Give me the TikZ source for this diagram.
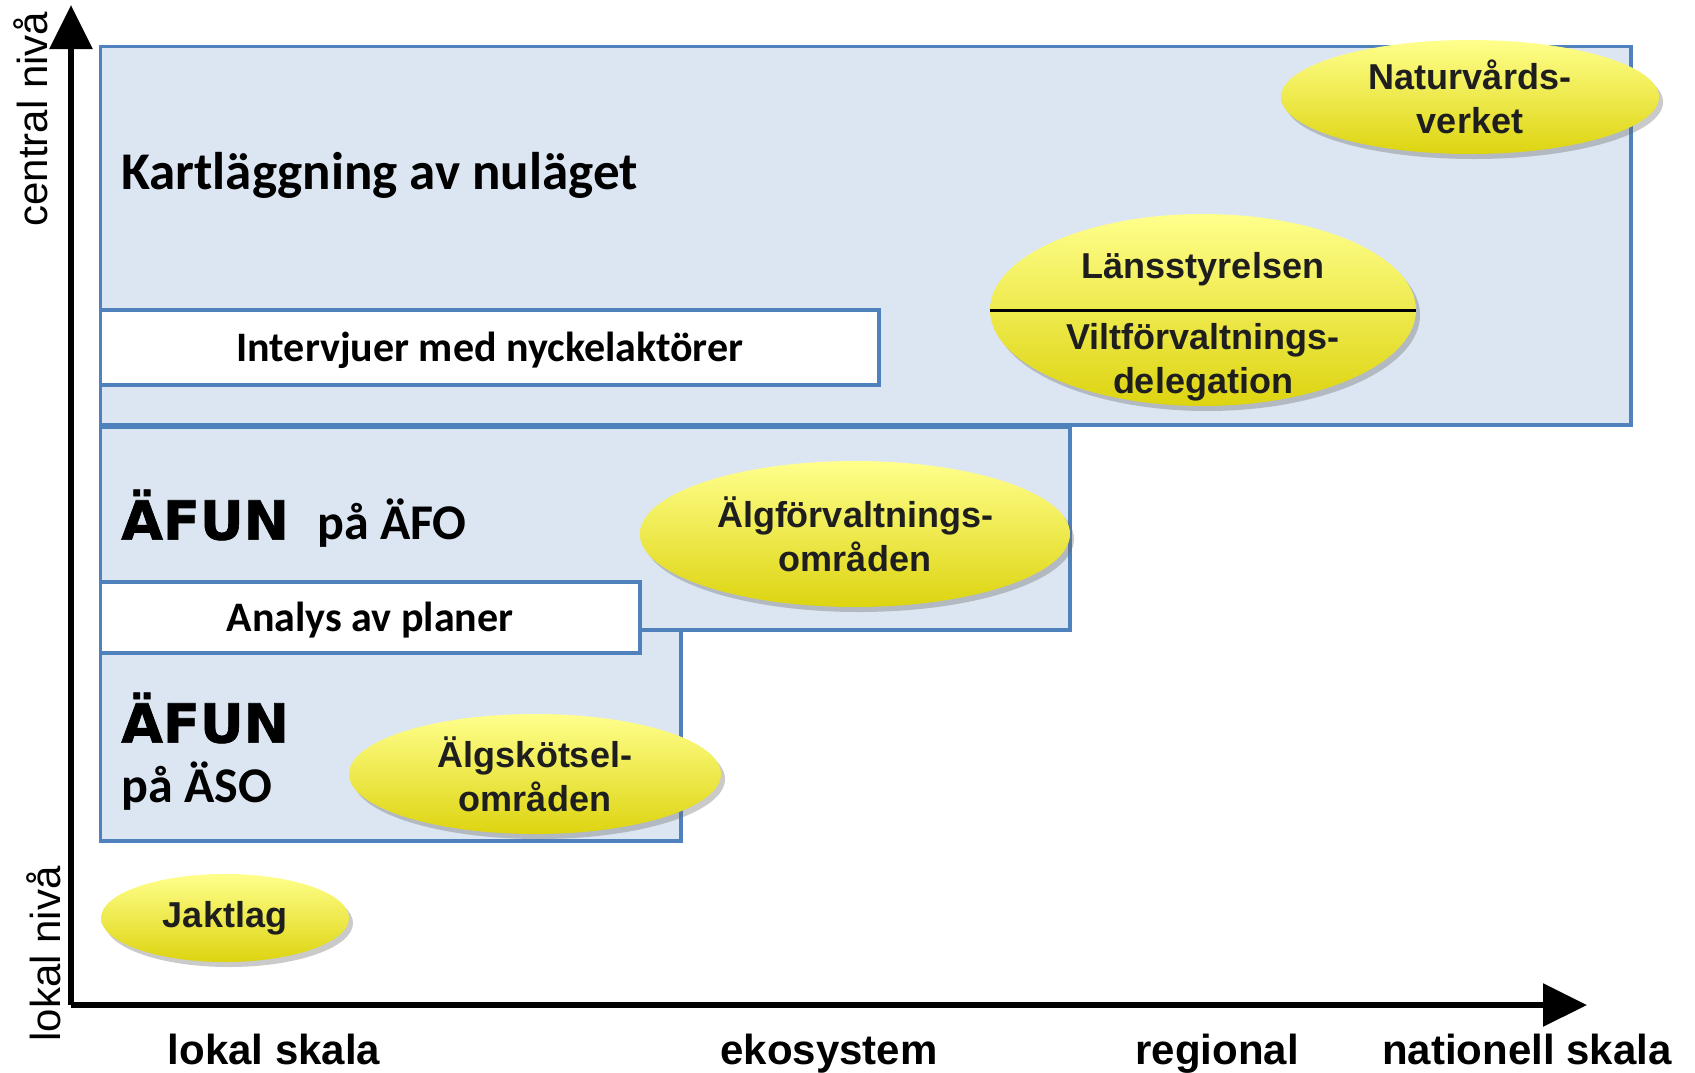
\documentclass[tikz,border=0pt]{standalone}
\usepackage{fontspec}
\setmainfont{Liberation Sans}
\newfontfamily\calib{Carlito}
\newfontfamily\heavy[FakeBold=1.2]{DejaVu Sans}
\usetikzlibrary{arrows.meta,shadows,shapes.geometric}
\definecolor{blueb}{HTML}{4F81BD}
\definecolor{bluef}{HTML}{DCE6F2}
\definecolor{yelT}{HTML}{FFFF8C}
\definecolor{yelB}{HTML}{DDD410}
\definecolor{txt}{HTML}{1E1E1E}
\tikzset{
  region/.style={draw=blueb, fill=bluef, line width=3.5pt},
  whitebox/.style={draw=blueb, fill=white, line width=3.5pt},
  oval/.style={ellipse, draw=none, top color=yelT, bottom color=yelB, inner sep=0pt,
    drop shadow={shadow xshift=4pt, shadow yshift=-5pt, opacity=0.35, fill=black!60}},
  ovaltext/.style={align=center, text=txt, font=\bfseries\fontsize{36}{44}\selectfont, inner sep=0pt},
  boxtext/.style={text=black, font=\calib\bfseries\fontsize{42}{48}\selectfont, inner sep=0pt},
  bigtext/.style={text=black, font=\calib\bfseries\fontsize{53}{60}\selectfont, inner sep=0pt},
  heavytext/.style={text=black, font=\heavy\bfseries\fontsize{54}{60}\selectfont, inner sep=0pt},
  scaletext/.style={text=black, font=\bfseries\fontsize{42}{48}\selectfont, inner sep=0pt, anchor=base},
  leveltext/.style={text=black, font=\fontsize{42}{48}\selectfont, inner sep=0pt, rotate=90},
  axis/.style={line width=6pt, -{Triangle[length=44pt,width=42pt]}}
}
\begin{document}
\begin{tikzpicture}[x=1pt,y=-1pt]
\useasboundingbox (0,0) rectangle (1695,1072);
% regions
\draw[region] (100.5,46.5) rectangle (1631,425);
\draw[whitebox] (100.5,310) rectangle (879,385);
\draw[region] (100.5,427) rectangle (1070,630);
\draw[region] (100.5,630) rectangle (681,841);
\draw[whitebox] (100.5,582) rectangle (640,653);
% region texts
\node[bigtext, anchor=mid west] (kart) at (121,187) {Kartläggning av nuläget};
\node[boxtext] (interv) at (490,350) {Intervjuer med nyckelaktörer};
\node[boxtext] (analys) at (370,620) {Analys av planer};
\node[heavytext, anchor=mid west] (afun1) at (121,537) {ÄFUN};
\node[bigtext, anchor=mid west, font=\calib\bfseries\fontsize{50}{56}\selectfont] (pafo) at (317,537) {på ÄFO};
\node[heavytext, anchor=mid west] (afun2) at (121,740) {ÄFUN};
\node[bigtext, anchor=mid west, font=\calib\bfseries\fontsize{50}{56}\selectfont] (paso) at (121,800) {på ÄSO};
% ellipses
\node[oval, minimum width=378pt, minimum height=114pt] (natur) at (1470,97) {};
\node[ovaltext] (naturt) at (natur.center) {Naturvårds-\\verket};
\node[oval, minimum width=426pt, minimum height=192pt] (lans) at (1203,310) {};
\draw[line width=3pt, black] (lans.west) -- (lans.east);
\node[ovaltext] (lanst) at (1203,269) {Länsstyrelsen};
\node[ovaltext] (viltt) at (1203,362) {Viltförvaltnings-\\delegation};
\node[oval, minimum width=430pt, minimum height=146pt] (algf) at (855,534) {};
\node[ovaltext] (algft) at (algf.center) {Älgförvaltnings-\\områden};
\node[oval, minimum width=372pt, minimum height=120pt] (algs) at (535,774) {};
\node[ovaltext] (algst) at (algs.center) {Älgskötsel-\\områden};
\node[oval, minimum width=248pt, minimum height=88pt] (jakt) at (225,918) {};
\node[ovaltext] (jaktt) at (jakt.center) {Jaktlag};
% axes
\coordinate (orig) at (71,1005);
\coordinate (ytip) at (71,5);
\coordinate (xtip) at (1587,1005);
\draw[axis] (orig) -- (ytip);
\draw[axis] (orig) -- (xtip);
% axis labels
\node[leveltext, anchor=base] (central) at (47,119) {central nivå};
\node[leveltext, anchor=base] (lokal) at (60,954) {lokal nivå};
\node[scaletext] (lokals) at (274,1064) {lokal skala};
\node[scaletext] (ekos) at (829,1064) {ekosystem};
\node[scaletext] (regional) at (1217,1064) {regional};
\node[scaletext] (nation) at (1527,1064) {nationell skala};
\end{tikzpicture}
\end{document}
